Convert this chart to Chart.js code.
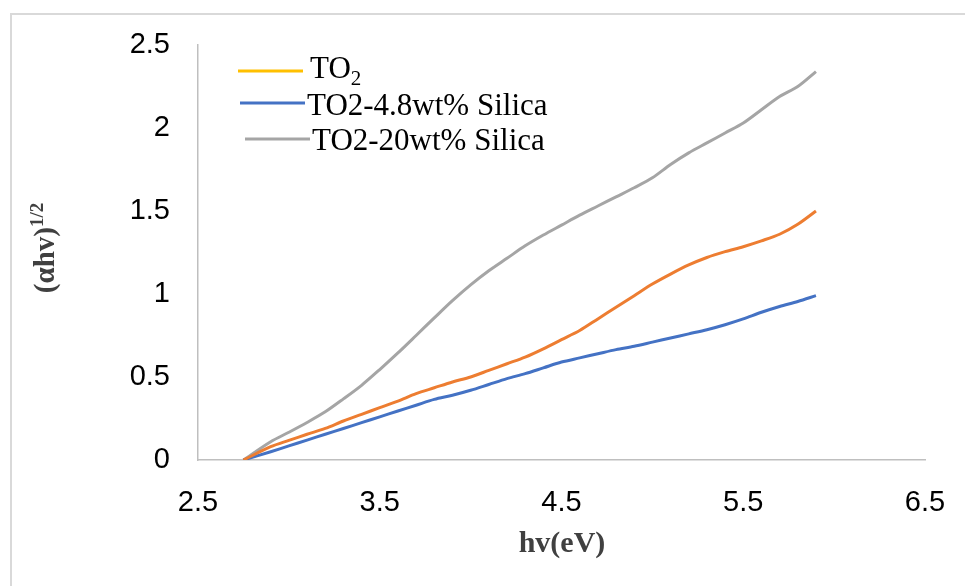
<!DOCTYPE html>
<html>
<head>
<meta charset="utf-8">
<script src="https://cdn.jsdelivr.net/npm/chart.js@4/dist/chart.umd.min.js"></script>
<style>
  body { margin: 0; background: #fff; }
  #wrap { position: relative; width: 965px; height: 586px; overflow: hidden; }
  #frame { position: absolute; left: 10px; top: 13px; width: 980px; height: 600px; border: 2px solid #d9d9d9; }
  #chart { position: absolute; left: 0; top: 0; }
</style>
</head>
<body>
<div id="wrap">
  <div id="frame"></div>
  <canvas id="chart" width="965" height="586"></canvas>
</div>
<script>
// Energia do fóton (eV)
const hv = [2.75, 2.9, 3.0, 3.1, 3.2, 3.3, 3.4, 3.5, 3.6, 3.7, 3.8, 3.9, 4.0, 4.1, 4.2, 4.3, 4.4, 4.5,
            4.6, 4.7, 4.8, 4.9, 5.0, 5.1, 5.2, 5.3, 5.4, 5.5, 5.6, 5.7, 5.8, 5.9];

// (αhv)^1/2 de cada amostra
const to2 = [0, 0.08, 0.118, 0.155, 0.19, 0.235, 0.275, 0.315, 0.355, 0.40, 0.435, 0.47, 0.50, 0.54, 0.58, 0.62, 0.67, 0.725,
             0.78, 0.85, 0.92, 0.99, 1.06, 1.12, 1.175, 1.22, 1.255, 1.285, 1.32, 1.36, 1.42, 1.50];
const silica48 = [0, 0.05, 0.085, 0.12, 0.155, 0.19, 0.225, 0.26, 0.295, 0.33, 0.365, 0.39, 0.42, 0.455, 0.49, 0.52, 0.555, 0.59,
                  0.615, 0.64, 0.665, 0.685, 0.71, 0.735, 0.76, 0.785, 0.815, 0.85, 0.89, 0.925, 0.955, 0.99];
const silica20 = [0, 0.11, 0.167, 0.226, 0.29, 0.368, 0.45, 0.545, 0.645, 0.75, 0.856, 0.96, 1.055, 1.14, 1.215, 1.29, 1.355, 1.415,
                  1.475, 1.53, 1.585, 1.64, 1.70, 1.78, 1.85, 1.91, 1.97, 2.03, 2.11, 2.19, 2.25, 2.34];

const xTicks = [2.5, 3.5, 4.5, 5.5, 6.5];
const yTicks = [0, 0.5, 1, 1.5, 2, 2.5];

function pontos(ys) {
    return hv.map((x, i) => ({ x: x, y: ys[i] }));
}

// Legenda e títulos dos eixos desenhados à mão (igual ao Excel)
const extras = {
    id: 'extras',
    afterDraw(chart) {
        const ctx = chart.ctx;
        ctx.save();

        // legenda
        const itens = [
            { cor: '#FFC000', x1: 238, x2: 303, y: 71, tx: 310, base: 78, texto: 'TO', sub: '2' },
            { cor: '#4472C4', x1: 240, x2: 305, y: 103, tx: 307, base: 115, texto: 'TO2-4.8wt% Silica' },
            { cor: '#A5A5A5', x1: 245, x2: 310, y: 139, tx: 312, base: 150, texto: 'TO2-20wt% Silica' }
        ];
        itens.forEach(it => {
            ctx.strokeStyle = it.cor;
            ctx.lineWidth = 3;
            ctx.beginPath();
            ctx.moveTo(it.x1, it.y);
            ctx.lineTo(it.x2, it.y);
            ctx.stroke();
            ctx.fillStyle = '#000';
            ctx.font = '31px "Liberation Serif", "Times New Roman", serif';
            ctx.textBaseline = 'alphabetic';
            ctx.textAlign = 'left';
            ctx.fillText(it.texto, it.tx, it.base);
            if (it.sub) {
                const w = ctx.measureText(it.texto).width;
                ctx.font = '21px "Liberation Serif", "Times New Roman", serif';
                ctx.fillText(it.sub, it.tx + w, it.base + 7);
            }
        });

        // título do eixo X
        ctx.fillStyle = '#404040';
        ctx.font = 'bold 30px "Liberation Serif", "Times New Roman", serif';
        ctx.textAlign = 'center';
        ctx.textBaseline = 'alphabetic';
        ctx.fillText('hv(eV)', 562, 552);

        // título do eixo Y (girado)
        ctx.translate(54, 248);
        ctx.rotate(-Math.PI / 2);
        ctx.textAlign = 'left';
        const fBig = 'bold 29px "Liberation Serif", "Times New Roman", serif';
        const fSmall = 'bold 19px "Liberation Serif", "Times New Roman", serif';
        ctx.font = fBig;
        const w1 = ctx.measureText('(αhv)').width;
        ctx.font = fSmall;
        const w2 = ctx.measureText('1/2').width;
        const x0 = -(w1 + w2) / 2;
        ctx.font = fBig;
        ctx.fillText('(αhv)', x0, 0);
        ctx.font = fSmall;
        ctx.fillText('1/2', x0 + w1, -11);

        ctx.restore();
    }
};

const ctx = document.getElementById('chart').getContext('2d');
new Chart(ctx, {
    type: 'scatter',
    data: {
        datasets: [
            { label: 'TO2', data: pontos(to2), borderColor: '#ED7D31' },
            { label: 'TO2-4.8wt% Silica', data: pontos(silica48), borderColor: '#4472C4' },
            { label: 'TO2-20wt% Silica', data: pontos(silica20), borderColor: '#A5A5A5' }
        ]
    },
    options: {
        responsive: false,
        animation: false,
        showLine: true,
        elements: {
            point: { radius: 0, hoverRadius: 0 },
            line: { borderWidth: 3, tension: 0.3, fill: false }
        },
        layout: { padding: { left: 0, top: 45, right: 40, bottom: 0 } },
        plugins: {
            legend: { display: false },
            tooltip: { enabled: false }
        },
        scales: {
            x: {
                type: 'linear',
                min: 2.5,
                max: 6.5,
                afterBuildTicks: s => { s.ticks = xTicks.map(v => ({ value: v })); },
                afterFit: s => { s.height = 126; s.paddingLeft = 0; s.paddingRight = 0; },
                grid: { display: false, drawTicks: false },
                border: { display: true, color: '#BFBFBF', width: 1.5 },
                ticks: {
                    padding: 26,
                    color: '#000',
                    callback: v => String(v),
                    font: { family: '"Liberation Sans", Arial, sans-serif', size: 29 }
                }
            },
            y: {
                min: 0,
                max: 2.5,
                afterBuildTicks: s => { s.ticks = yTicks.map(v => ({ value: v })); },
                afterFit: s => { s.width = 198; s.paddingTop = 0; s.paddingBottom = 0; },
                grid: { display: false, drawTicks: false },
                border: { display: true, color: '#BFBFBF', width: 1.5 },
                ticks: {
                    padding: 28,
                    color: '#000',
                    callback: v => String(v),
                    font: { family: '"Liberation Sans", Arial, sans-serif', size: 29 }
                }
            }
        }
    },
    plugins: [extras]
});
</script>
</body>
</html>
